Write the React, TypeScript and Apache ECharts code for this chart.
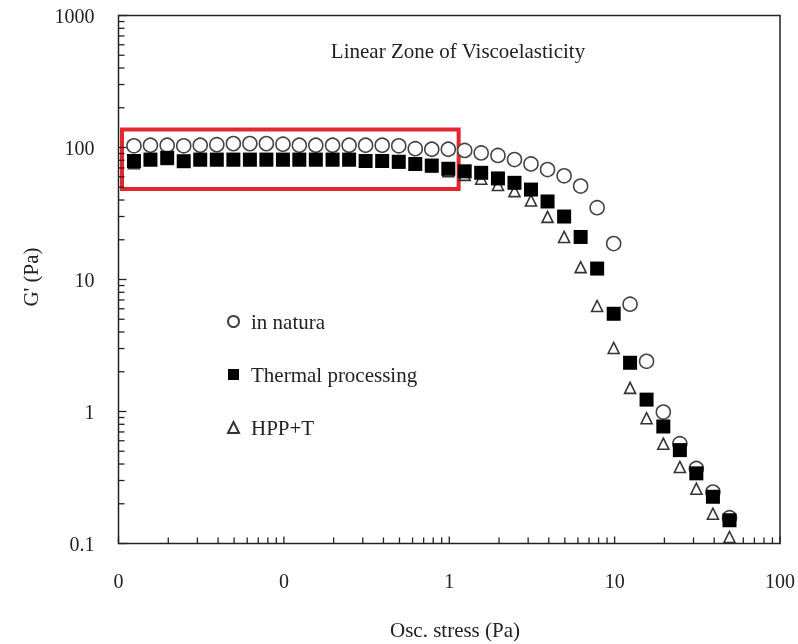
import React, { useEffect, useRef } from "react";
import * as echarts from "echarts";

// Oscillatory stress (Pa)
const stress = [
  0.0124, 0.0156, 0.0197, 0.0248, 0.0312, 0.0393, 0.0495, 0.0623, 0.0784, 0.0987,
  0.124, 0.156, 0.197, 0.248, 0.312, 0.393, 0.495, 0.623, 0.784, 0.987,
  1.24, 1.56, 1.97, 2.48, 3.12, 3.93, 4.95, 6.23, 7.84, 9.87,
  12.4, 15.6, 19.7, 24.8, 31.2, 39.3, 49.5,
];

// G' (Pa)
const inNatura = [
  103, 104, 104, 103, 104, 105, 107, 107, 107, 106,
  104, 104, 104, 104, 104, 104, 103, 98, 97, 97,
  95, 91, 87, 81, 75, 68, 61, 51, 35, 18.7,
  6.5, 2.4, 0.99, 0.57, 0.37, 0.245, 0.157,
];
const thermal = [
  79, 81, 83.5, 78.7, 81, 81, 81, 81, 81, 81,
  81, 81, 81, 81, 79, 79, 78, 75, 73, 69,
  66, 64.3, 58.3, 54, 48, 39, 30, 21, 12.1, 5.5,
  2.34, 1.23, 0.77, 0.51, 0.34, 0.226, 0.15,
];
const hppT = [
  76, 80, 82, 78, 80, 80, 80, 80, 80, 80,
  80, 80, 80, 80, 78, 78, 77, 74, 72, 66,
  62, 58, 52, 46.7, 39.7, 29.8, 21, 12.4, 6.3, 3.03,
  1.51, 0.89, 0.57, 0.38, 0.26, 0.168, 0.112,
];

const seriesNames = ["in natura", "Thermal processing", "HPP+T"];
const title = "Linear Zone of Viscoelasticity";
const xName = "Osc. stress (Pa)";
const yName = "G' (Pa)";

// Linear viscoelastic region highlighted (data coordinates)
const lvrX = [0.0105, 1.14];
const lvrY = [137, 48.5];

// axis tick layout
const tickMultipliers = [1, 2, 3, 4, 5, 6, 7, 8, 9];
const xDecades = [0.01, 0.1, 1, 10];
const yDecades = [0.1, 1, 10, 100];
const X_MIN = 0.01, X_MAX = 100, Y_MIN = 0.1, Y_MAX = 1000;

const FONT = "'Liberation Serif', 'Times New Roman', serif";
const INK = "#222";

export default function App() {
  const ref = useRef<HTMLDivElement>(null);

  useEffect(() => {
    if (!ref.current) return;
    const chart = echarts.init(ref.current, undefined, { renderer: "svg" });

    const xTicks: number[][] = [];
    xDecades.forEach((d) =>
      tickMultipliers.forEach((m) => xTicks.push([d * m, Y_MIN, m === 1 ? 1 : 0]))
    );
    xTicks.push([X_MAX, Y_MIN, 1]);
    const yTicks: number[][] = [];
    yDecades.forEach((d) =>
      tickMultipliers.forEach((m) => yTicks.push([X_MIN, d * m, m === 1 ? 1 : 0]))
    );
    yTicks.push([X_MIN, Y_MAX, 1]);

    const pts = (ys: number[]) => stress.map((x, i) => [x, ys[i]]);

    chart.setOption({
      animation: false,
      grid: {
        left: 118.5,
        top: 15.5,
        width: 664.5,
        height: 528,
        show: true,
        borderColor: INK,
        borderWidth: 1.5,
        backgroundColor: "transparent",
      },
      xAxis: {
        type: "log",
        logBase: 10,
        min: X_MIN,
        max: X_MAX,
        axisLine: { show: false },
        axisTick: { show: false },
        splitLine: { show: false },
        axisLabel: {
          fontSize: 20,
          fontFamily: FONT,
          color: INK,
          margin: 27,
          showMinLabel: true,
          showMaxLabel: true,
          formatter: (v: number) => (v < 1 ? "0" : String(Math.round(v))),
        },
      },
      yAxis: {
        type: "log",
        logBase: 10,
        min: Y_MIN,
        max: Y_MAX,
        axisLine: { show: false },
        axisTick: { show: false },
        splitLine: { show: false },
        axisLabel: {
          fontSize: 20,
          fontFamily: FONT,
          color: INK,
          margin: 24,
          showMinLabel: true,
          showMaxLabel: true,
          formatter: (v: number) =>
            v >= 1 ? String(Math.round(v)) : String(Number(v.toPrecision(1))),
        },
      },
      legend: {
        orient: "vertical",
        left: 222,
        top: 306,
        itemWidth: 11,
        itemHeight: 11,
        itemGap: 32,
        selectedMode: false,
        data: seriesNames,
        textStyle: {
          fontSize: 21,
          fontFamily: FONT,
          color: INK,
          lineHeight: 20,
          padding: [0, 0, 0, 7],
        },
      },
      graphic: [
        {
          type: "text",
          x: 458,
          y: 51,
          style: {
            text: title,
            fontSize: 21,
            fontFamily: FONT,
            fill: INK,
            align: "center",
            verticalAlign: "middle",
          },
        },
        {
          type: "text",
          x: 455,
          y: 630,
          style: {
            text: xName,
            fontSize: 21,
            fontFamily: FONT,
            fill: INK,
            align: "center",
            verticalAlign: "middle",
          },
        },
        {
          type: "text",
          x: 31,
          y: 277,
          rotation: Math.PI / 2,
          style: {
            text: yName,
            fontSize: 21,
            fontFamily: FONT,
            fill: INK,
            align: "center",
            verticalAlign: "middle",
          },
        },
      ],
      series: [
        {
          type: "custom",
          name: "xticks",
          silent: true,
          clip: false,
          data: xTicks,
          renderItem: (_p: any, api: any) => {
            const c = api.coord([api.value(0), api.value(1)]);
            const len = api.value(2) ? 7 : 6;
            return {
              type: "line",
              shape: { x1: c[0], y1: c[1], x2: c[0], y2: c[1] - len },
              style: { stroke: INK, lineWidth: 1.3 },
            };
          },
        },
        {
          type: "custom",
          name: "yticks",
          silent: true,
          clip: false,
          data: yTicks,
          renderItem: (_p: any, api: any) => {
            const c = api.coord([api.value(0), api.value(1)]);
            const len = api.value(2) ? 8 : 6;
            return {
              type: "line",
              shape: { x1: c[0], y1: c[1], x2: c[0] + len, y2: c[1] },
              style: { stroke: INK, lineWidth: 1.3 },
            };
          },
        },
        {
          type: "scatter",
          name: seriesNames[0],
          symbol: "circle",
          symbolSize: 14,
          data: pts(inNatura),
          itemStyle: { color: "#fff", borderColor: "#444", borderWidth: 1.6, opacity: 1 },
          z: 3,
        },
        {
          type: "scatter",
          name: seriesNames[2],
          symbol: "triangle",
          symbolSize: 11,
          data: pts(hppT),
          itemStyle: { color: "#fff", borderColor: "#333", borderWidth: 1.6, opacity: 1 },
          z: 4,
        },
        {
          type: "scatter",
          name: seriesNames[1],
          symbol: "rect",
          symbolSize: 14,
          data: pts(thermal),
          itemStyle: { color: "#000", opacity: 1 },
          z: 5,
          markArea: {
            silent: true,
            itemStyle: {
              color: "transparent",
              borderColor: "#e5262e",
              borderWidth: 4,
            },
            data: [[{ coord: [lvrX[0], lvrY[0]] }, { coord: [lvrX[1], lvrY[1]] }]],
          },
        },
      ],
    });

    return () => chart.dispose();
  }, []);

  return (
    <div
      ref={ref}
      style={{ position: "fixed", left: 0, top: 0, width: 798, height: 644 }}
    />
  );
}
